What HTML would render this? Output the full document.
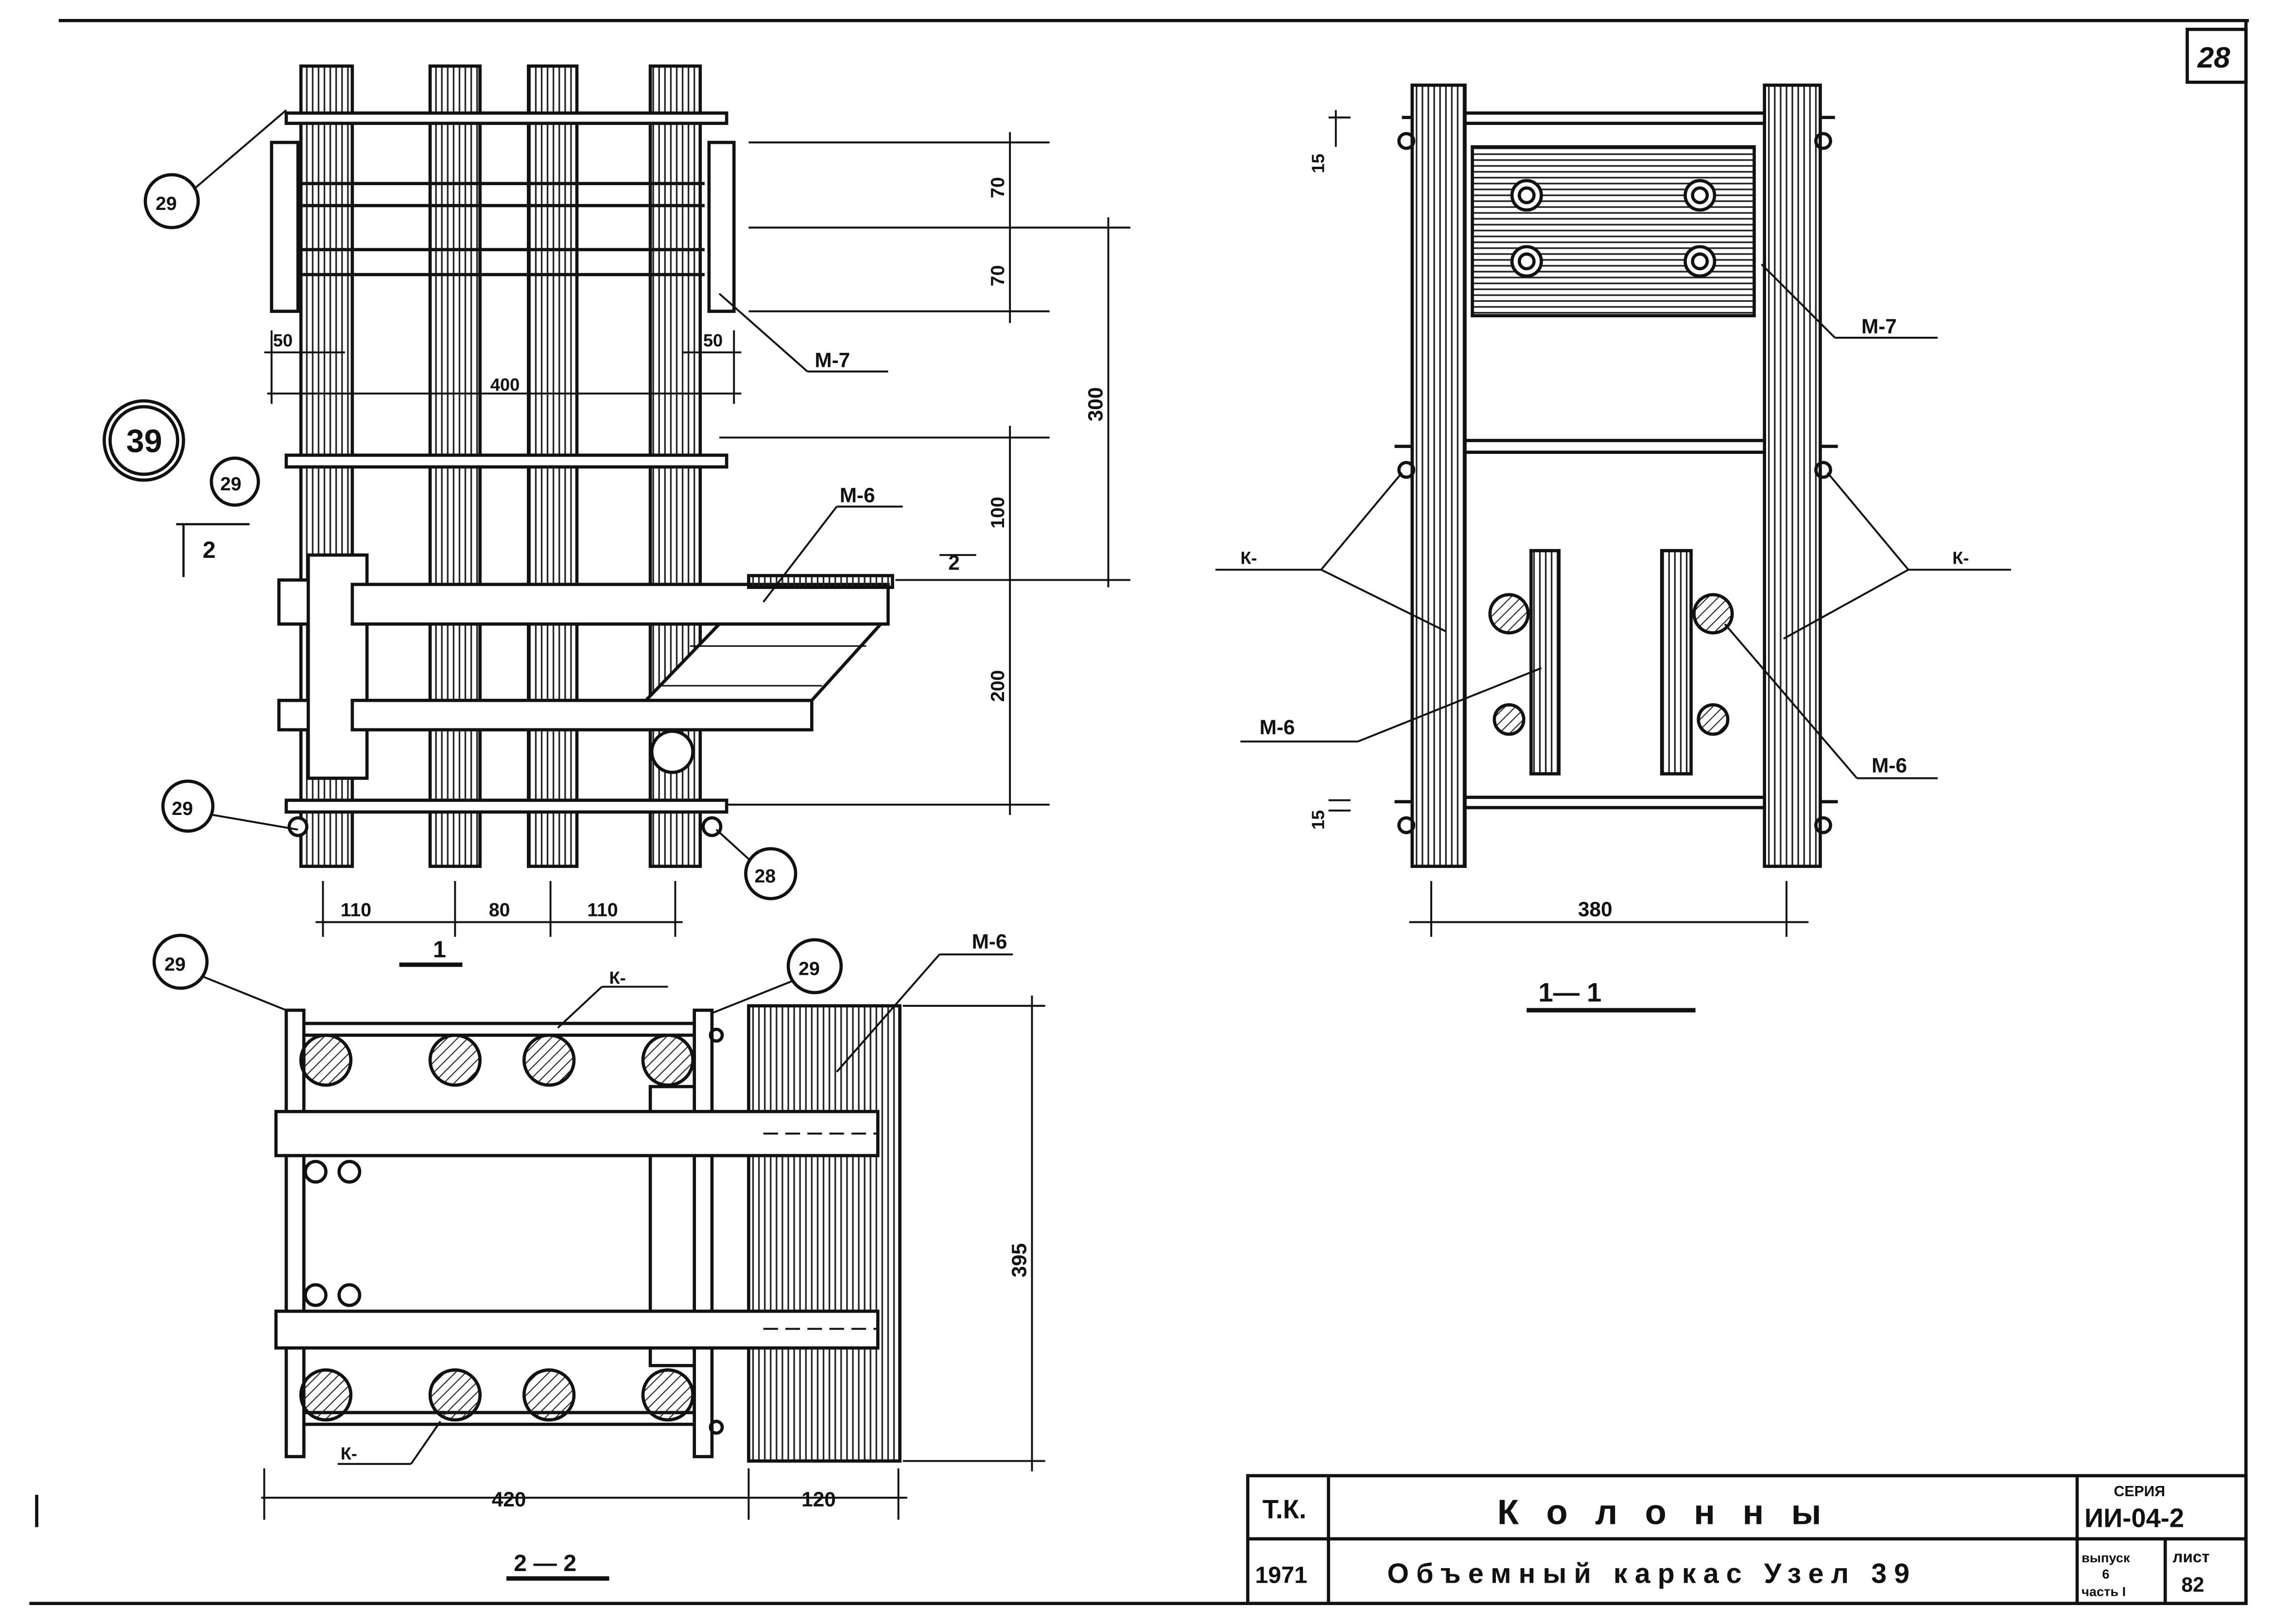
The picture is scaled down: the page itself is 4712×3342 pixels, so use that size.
<!DOCTYPE html>
<html><head><meta charset="utf-8"><style>
html,body{margin:0;padding:0;background:#fff}
svg{display:block}
text{font-family:"Liberation Sans","DejaVu Sans",sans-serif;font-weight:bold;fill:#111}
</style></head><body>
<svg width="4712" height="3342" viewBox="0 0 1560 1106" preserveAspectRatio="none" xmlns="http://www.w3.org/2000/svg">
<defs>
<pattern id="vh" width="4" height="10" patternUnits="userSpaceOnUse"><line x1="1" y1="0" x2="1" y2="10" stroke="#222" stroke-width="1.1"/></pattern>
<pattern id="hh" width="10" height="4" patternUnits="userSpaceOnUse"><line x1="0" y1="1" x2="10" y2="1" stroke="#222" stroke-width="1.1"/></pattern>
<pattern id="dh" width="5" height="5" patternUnits="userSpaceOnUse" patternTransform="rotate(45)"><line x1="0" y1="0" x2="0" y2="5" stroke="#222" stroke-width="1.4"/></pattern>
</defs>
<g stroke="#111" stroke-width="2.2" fill="none">
<!-- frame -->
<line x1="40" y1="14" x2="1532" y2="14"/>
<line x1="1530" y1="14" x2="1530" y2="1093"/>
<line x1="20" y1="1092" x2="1531" y2="1092"/>
<line x1="25" y1="1018" x2="25" y2="1040"/>
<rect x="1490" y="20" width="40" height="36"/>

<!-- TOP-LEFT ELEVATION -->
<rect x="205" y="45" width="35" height="545" fill="url(#vh)"/>
<rect x="293" y="45" width="34" height="545" fill="url(#vh)"/>
<rect x="360" y="45" width="33" height="545" fill="url(#vh)"/>
<rect x="443" y="45" width="34" height="545" fill="url(#vh)"/>
<rect x="195" y="77" width="300" height="7" fill="#fff"/>
<line x1="205" y1="125" x2="480" y2="125"/><line x1="205" y1="140" x2="480" y2="140"/>
<line x1="205" y1="170" x2="480" y2="170"/><line x1="205" y1="187" x2="480" y2="187"/>
<rect x="185" y="97" width="18" height="115" fill="#fff"/>
<rect x="483" y="97" width="17" height="115" fill="#fff"/>
<rect x="195" y="310" width="300" height="8" fill="#fff"/>
<rect x="195" y="545" width="300" height="8" fill="#fff"/>
<circle cx="203" cy="563" r="6" fill="#fff"/><circle cx="485" cy="563" r="6" fill="#fff"/>
<rect x="190" y="395" width="50" height="30" fill="#fff"/>
<rect x="190" y="477" width="50" height="20" fill="#fff"/>
<rect x="210" y="378" width="40" height="152" fill="#fff"/>
<rect x="240" y="398" width="365" height="27" fill="#fff"/>
<rect x="240" y="477" width="313" height="20" fill="#fff"/>
<polygon points="440,477 490,425 600,425 553,477" fill="#fff"/>
<rect x="510" y="392" width="98" height="8" fill="url(#vh)"/>
<line x1="470" y1="440" x2="590" y2="440" stroke-width="1"/>
<line x1="450" y1="467" x2="560" y2="467" stroke-width="1"/>
<circle cx="458" cy="512" r="14" fill="#fff"/>
<!-- dims -->
<line x1="510" y1="97" x2="715" y2="97" stroke-width="1.3"/>
<line x1="510" y1="155" x2="770" y2="155" stroke-width="1.3"/>
<line x1="510" y1="212" x2="715" y2="212" stroke-width="1.3"/>
<line x1="688" y1="90" x2="688" y2="220" stroke-width="1.3"/>
<line x1="755" y1="148" x2="755" y2="400" stroke-width="1.3"/>
<line x1="610" y1="395" x2="770" y2="395" stroke-width="1.3"/>
<line x1="490" y1="298" x2="715" y2="298" stroke-width="1.3"/>
<line x1="495" y1="548" x2="715" y2="548" stroke-width="1.3"/>
<line x1="688" y1="290" x2="688" y2="555" stroke-width="1.3"/>
<line x1="180" y1="240" x2="235" y2="240" stroke-width="1.3"/>
<line x1="465" y1="240" x2="505" y2="240" stroke-width="1.3"/>
<line x1="182" y1="268" x2="505" y2="268" stroke-width="1.3"/>
<line x1="185" y1="225" x2="185" y2="275" stroke-width="1.3"/>
<line x1="500" y1="225" x2="500" y2="275" stroke-width="1.3"/>
<line x1="215" y1="628" x2="465" y2="628" stroke-width="1.3"/>
<line x1="220" y1="600" x2="220" y2="638" stroke-width="1.3"/>
<line x1="310" y1="600" x2="310" y2="638" stroke-width="1.3"/>
<line x1="375" y1="600" x2="375" y2="638" stroke-width="1.3"/>
<line x1="460" y1="600" x2="460" y2="638" stroke-width="1.3"/>
<line x1="272" y1="657" x2="315" y2="657" stroke-width="3"/>
<line x1="120" y1="357" x2="170" y2="357" stroke-width="1.5"/>
<line x1="125" y1="357" x2="125" y2="393" stroke-width="1.5"/>
<line x1="640" y1="378" x2="665" y2="378" stroke-width="1.3"/>
<!-- leaders -->
<line x1="133" y1="128" x2="195" y2="75" stroke-width="1.3"/>
<line x1="490" y1="200" x2="550" y2="253" stroke-width="1.3"/><line x1="550" y1="253" x2="605" y2="253" stroke-width="1.3"/>
<line x1="520" y1="410" x2="570" y2="345" stroke-width="1.3"/><line x1="570" y1="345" x2="615" y2="345" stroke-width="1.3"/>
<line x1="145" y1="555" x2="203" y2="565" stroke-width="1.3"/>
<line x1="510" y1="585" x2="488" y2="565" stroke-width="1.3"/>
<circle cx="117" cy="137" r="18"/><circle cx="98" cy="300" r="27"/><circle cx="98" cy="300" r="23"/>
<circle cx="160" cy="328" r="16"/><circle cx="128" cy="549" r="17"/><circle cx="525" cy="595" r="17"/>

<!-- BOTTOM-LEFT 2-2 -->
<rect x="195" y="688" width="12" height="304" fill="#fff"/>
<rect x="473" y="688" width="12" height="304" fill="#fff"/>
<line x1="207" y1="697" x2="473" y2="697"/><line x1="207" y1="705" x2="473" y2="705"/>
<line x1="207" y1="962" x2="473" y2="962"/><line x1="207" y1="970" x2="473" y2="970"/>
<rect x="443" y="740" width="30" height="190" fill="#fff"/>
<rect x="510" y="685" width="103" height="310" fill="url(#vh)"/>
<rect x="188" y="757" width="410" height="30" fill="#fff"/>
<rect x="188" y="893" width="410" height="25" fill="#fff"/>
<line x1="520" y1="772" x2="598" y2="772" stroke-dasharray="10,5" stroke-width="1.3"/>
<line x1="520" y1="905" x2="598" y2="905" stroke-dasharray="10,5" stroke-width="1.3"/>
<g fill="url(#dh)">
<circle cx="222" cy="722" r="17"/><circle cx="310" cy="722" r="17"/><circle cx="374" cy="722" r="17"/><circle cx="455" cy="722" r="17"/>
<circle cx="222" cy="950" r="17"/><circle cx="310" cy="950" r="17"/><circle cx="374" cy="950" r="17"/><circle cx="455" cy="950" r="17"/>
</g>
<circle cx="215" cy="798" r="7"/><circle cx="238" cy="798" r="7"/><circle cx="215" cy="882" r="7"/><circle cx="238" cy="882" r="7"/>
<circle cx="488" cy="705" r="4"/><circle cx="488" cy="972" r="4"/>
<circle cx="123" cy="655" r="18"/><circle cx="555" cy="658" r="18"/>
<line x1="138" y1="665" x2="195" y2="688" stroke-width="1.3"/>
<line x1="540" y1="668" x2="485" y2="690" stroke-width="1.3"/>
<line x1="380" y1="700" x2="410" y2="672" stroke-width="1.3"/><line x1="410" y1="672" x2="455" y2="672" stroke-width="1.3"/>
<line x1="300" y1="968" x2="280" y2="997" stroke-width="1.3"/><line x1="230" y1="997" x2="280" y2="997" stroke-width="1.3"/>
<line x1="570" y1="730" x2="640" y2="650" stroke-width="1.3"/><line x1="640" y1="650" x2="690" y2="650" stroke-width="1.3"/>
<line x1="615" y1="685" x2="712" y2="685" stroke-width="1.3"/><line x1="615" y1="995" x2="712" y2="995" stroke-width="1.3"/>
<line x1="703" y1="678" x2="703" y2="1002" stroke-width="1.3"/>
<line x1="178" y1="1020" x2="618" y2="1020" stroke-width="1.3"/>
<line x1="180" y1="1000" x2="180" y2="1035" stroke-width="1.3"/>
<line x1="510" y1="1000" x2="510" y2="1035" stroke-width="1.3"/>
<line x1="612" y1="1000" x2="612" y2="1035" stroke-width="1.3"/>
<line x1="345" y1="1075" x2="415" y2="1075" stroke-width="3"/>

<!-- RIGHT 1-1 -->
<rect x="962" y="58" width="36" height="532" fill="url(#vh)"/>
<rect x="1202" y="58" width="38" height="532" fill="url(#vh)"/>
<rect x="998" y="77" width="204" height="7" fill="#fff"/>
<rect x="998" y="300" width="204" height="8" fill="#fff"/>
<rect x="998" y="543" width="204" height="7" fill="#fff"/>
<line x1="955" y1="80" x2="962" y2="80"/><line x1="1240" y1="80" x2="1250" y2="80"/>
<line x1="950" y1="304" x2="962" y2="304"/><line x1="1240" y1="304" x2="1252" y2="304"/>
<line x1="950" y1="546" x2="962" y2="546"/><line x1="1240" y1="546" x2="1252" y2="546"/>
<circle cx="958" cy="96" r="5"/><circle cx="1242" cy="96" r="5"/>
<circle cx="958" cy="320" r="5"/><circle cx="1242" cy="320" r="5"/>
<circle cx="958" cy="562" r="5"/><circle cx="1242" cy="562" r="5"/>
<rect x="1003" y="100" width="192" height="115" fill="url(#hh)"/>
<circle cx="1040" cy="133" r="10" fill="#fff"/><circle cx="1040" cy="133" r="5"/>
<circle cx="1158" cy="133" r="10" fill="#fff"/><circle cx="1158" cy="133" r="5"/>
<circle cx="1040" cy="178" r="10" fill="#fff"/><circle cx="1040" cy="178" r="5"/>
<circle cx="1158" cy="178" r="10" fill="#fff"/><circle cx="1158" cy="178" r="5"/>
<rect x="1043" y="375" width="19" height="152" fill="url(#vh)"/>
<rect x="1132" y="375" width="20" height="152" fill="url(#vh)"/>
<g fill="url(#dh)"><circle cx="1028" cy="418" r="13"/><circle cx="1167" cy="418" r="13"/><circle cx="1028" cy="490" r="10"/><circle cx="1167" cy="490" r="10"/></g>
<line x1="1200" y1="180" x2="1250" y2="230" stroke-width="1.3"/><line x1="1250" y1="230" x2="1320" y2="230" stroke-width="1.3"/>
<line x1="828" y1="388" x2="900" y2="388" stroke-width="1.3"/>
<line x1="900" y1="388" x2="955" y2="322" stroke-width="1.3"/><line x1="900" y1="388" x2="985" y2="430" stroke-width="1.3"/>
<line x1="1300" y1="388" x2="1370" y2="388" stroke-width="1.3"/>
<line x1="1300" y1="388" x2="1245" y2="322" stroke-width="1.3"/><line x1="1300" y1="388" x2="1215" y2="435" stroke-width="1.3"/>
<line x1="845" y1="505" x2="925" y2="505" stroke-width="1.3"/><line x1="925" y1="505" x2="1050" y2="455" stroke-width="1.3"/>
<line x1="1175" y1="425" x2="1265" y2="530" stroke-width="1.3"/><line x1="1265" y1="530" x2="1320" y2="530" stroke-width="1.3"/>
<line x1="905" y1="80" x2="920" y2="80" stroke-width="1.3"/><line x1="910" y1="75" x2="910" y2="100" stroke-width="1.3"/>
<line x1="905" y1="545" x2="920" y2="545" stroke-width="1.3"/><line x1="905" y1="552" x2="920" y2="552" stroke-width="1.3"/>
<line x1="960" y1="628" x2="1232" y2="628" stroke-width="1.3"/>
<line x1="975" y1="600" x2="975" y2="638" stroke-width="1.3"/><line x1="1217" y1="600" x2="1217" y2="638" stroke-width="1.3"/>
<line x1="1040" y1="688" x2="1155" y2="688" stroke-width="3"/>

<!-- title block -->
<rect x="850" y="1005" width="680" height="87"/>
<line x1="850" y1="1048" x2="1530" y2="1048"/>
<line x1="905" y1="1005" x2="905" y2="1092"/>
<line x1="1415" y1="1005" x2="1415" y2="1092"/>
<line x1="1475" y1="1048" x2="1475" y2="1092"/>
</g>

<!-- labels -->
<g font-size="14">
<text x="1497" y="46" font-size="20" font-style="italic">28</text>
<text x="106" y="143" font-size="13">29</text>
<text x="86" y="308" font-size="22">39</text>
<text x="150" y="334" font-size="13">29</text>
<text x="117" y="555" font-size="13">29</text>
<text x="514" y="601" font-size="13">28</text>
<text x="112" y="661" font-size="13">29</text>
<text x="544" y="664" font-size="13">29</text>
<text x="138" y="380" font-size="16">2</text>
<text x="646" y="388" font-size="14">2</text>
<text x="555" y="250">М-7</text>
<text x="572" y="342">М-6</text>
<text x="186" y="236" font-size="12">50</text>
<text x="479" y="236" font-size="12">50</text>
<text x="334" y="266" font-size="12">400</text>
<text x="232" y="624" font-size="13">110</text>
<text x="333" y="624" font-size="13">80</text>
<text x="400" y="624" font-size="13">110</text>
<text x="295" y="652" font-size="16">1</text>
<text transform="translate(684,135) rotate(-90)" font-size="13">70</text>
<text transform="translate(684,195) rotate(-90)" font-size="13">70</text>
<text transform="translate(751,287) rotate(-90)" font-size="14">300</text>
<text transform="translate(684,360) rotate(-90)" font-size="13">100</text>
<text transform="translate(684,478) rotate(-90)" font-size="13">200</text>
<text x="662" y="646">М-6</text>
<text x="415" y="670" font-size="12">К-</text>
<text x="232" y="994" font-size="12">К-</text>
<text x="335" y="1026" font-size="14">420</text>
<text x="546" y="1026" font-size="14">120</text>
<text transform="translate(699,870) rotate(-90)" font-size="14">395</text>
<text x="350" y="1070" font-size="16">2 — 2</text>
<text x="1268" y="227">М-7</text>
<text x="845" y="384" font-size="12">К-</text>
<text x="1330" y="384" font-size="12">К-</text>
<text x="858" y="500">М-6</text>
<text x="1275" y="526">М-6</text>
<text transform="translate(902,118) rotate(-90)" font-size="12">15</text>
<text transform="translate(902,565) rotate(-90)" font-size="12">15</text>
<text x="1075" y="624" font-size="14">380</text>
<text x="1048" y="682" font-size="18">1— 1</text>
<text x="860" y="1034" font-size="18">Т.К.</text>
<text x="1020" y="1038" font-size="24" letter-spacing="6">К о л о н н ы</text>
<text x="1440" y="1019" font-size="10">СЕРИЯ</text>
<text x="1420" y="1040" font-size="18">ИИ-04-2</text>
<text x="855" y="1078" font-size="16">1971</text>
<text x="945" y="1078" font-size="19" letter-spacing="5">Объемный каркас Узел 39</text>
<text x="1418" y="1064" font-size="9">выпуск</text>
<text x="1432" y="1075" font-size="9">6</text>
<text x="1418" y="1087" font-size="9">часть I</text>
<text x="1480" y="1064" font-size="11">лист</text>
<text x="1486" y="1084" font-size="14">82</text>
</g>
</svg>
</body></html>
